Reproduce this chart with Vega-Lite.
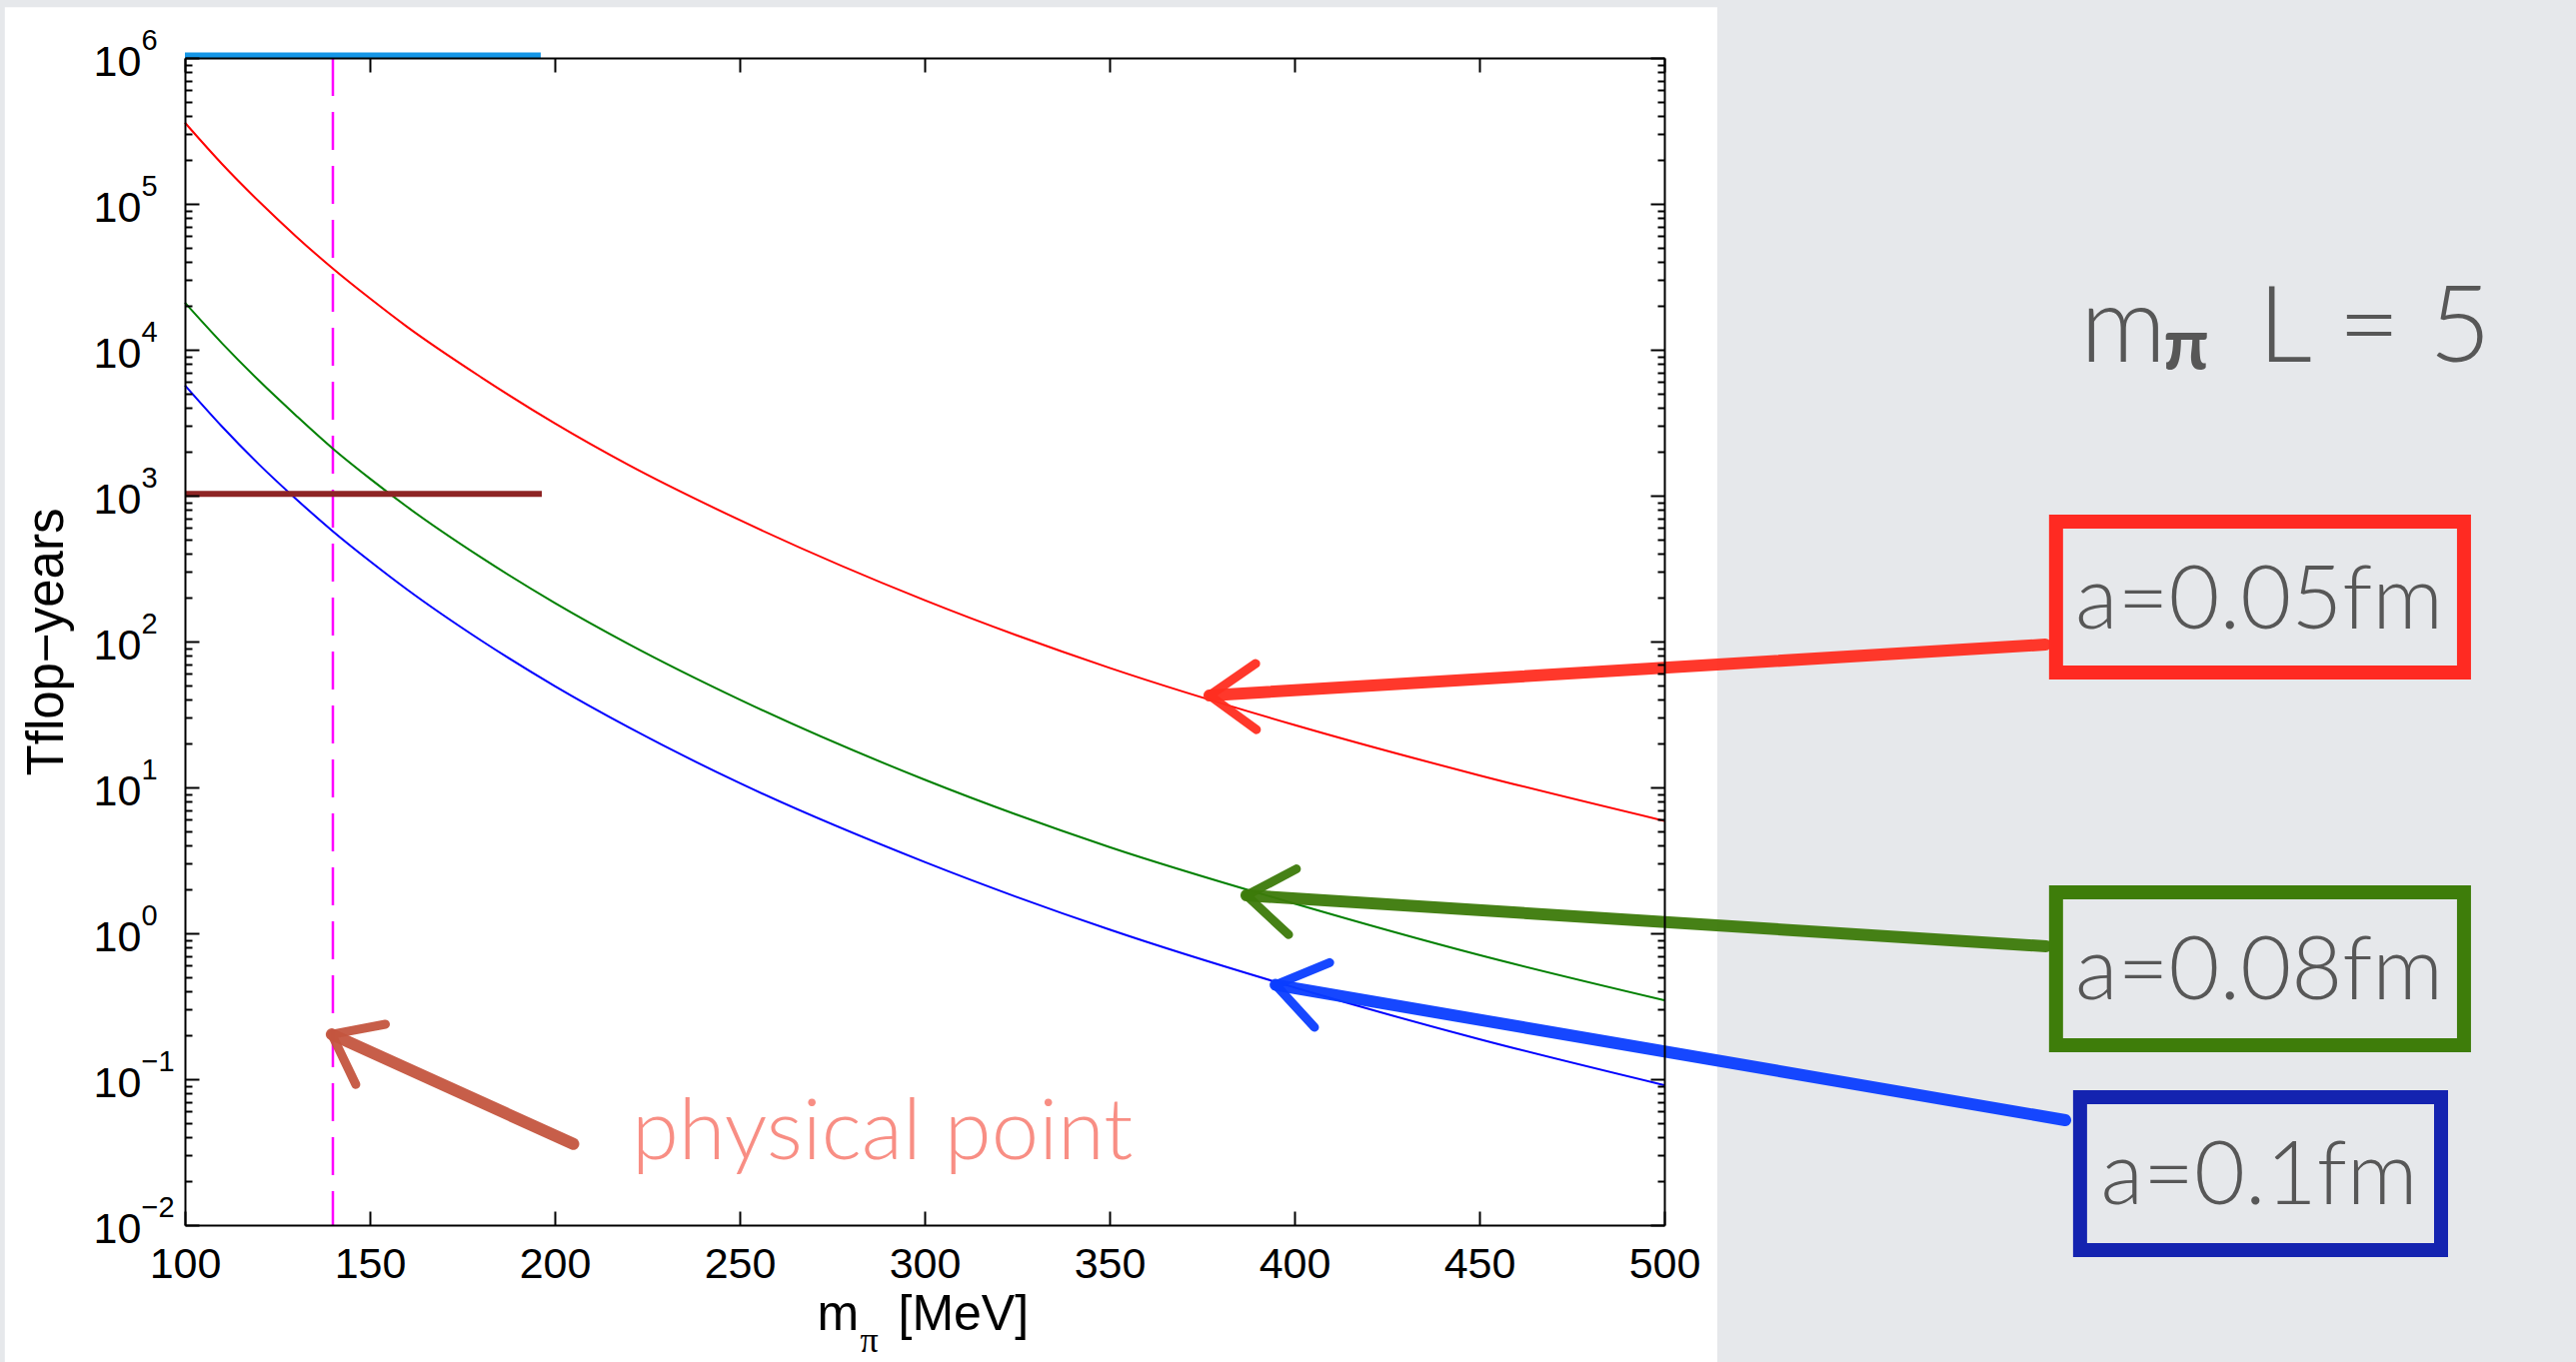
{
  "$schema": "https://vega.github.io/schema/vega-lite/v6.json",
  "width": 1480,
  "height": 1168,
  "autosize": {"type": "none"},
  "padding": {"left": 185, "top": 58, "right": 912, "bottom": 137},
  "background": "#e6e8eb",
  "datasets": {
    "curves": [
      {"s": "a=0.05fm", "m": 100, "v": 360000}, {"s": "a=0.05fm", "m": 110, "v": 188000}, {"s": "a=0.05fm", "m": 120, "v": 104000}, {"s": "a=0.05fm", "m": 130, "v": 60000}, {"s": "a=0.05fm", "m": 140, "v": 36000}, {"s": "a=0.05fm", "m": 150, "v": 22500}, {"s": "a=0.05fm", "m": 160, "v": 14400}, {"s": "a=0.05fm", "m": 180, "v": 6500}, {"s": "a=0.05fm", "m": 200, "v": 3130}, {"s": "a=0.05fm", "m": 220, "v": 1620}, {"s": "a=0.05fm", "m": 250, "v": 680}, {"s": "a=0.05fm", "m": 300, "v": 192}, {"s": "a=0.05fm", "m": 350, "v": 66}, {"s": "a=0.05fm", "m": 400, "v": 26.8}, {"s": "a=0.05fm", "m": 450, "v": 12.1}, {"s": "a=0.05fm", "m": 500, "v": 5.9},
      {"s": "a=0.08fm", "m": 100, "v": 21000}, {"s": "a=0.08fm", "m": 110, "v": 11100}, {"s": "a=0.08fm", "m": 120, "v": 6150}, {"s": "a=0.08fm", "m": 130, "v": 3550}, {"s": "a=0.08fm", "m": 140, "v": 2100}, {"s": "a=0.08fm", "m": 150, "v": 1310}, {"s": "a=0.08fm", "m": 160, "v": 840}, {"s": "a=0.08fm", "m": 180, "v": 378}, {"s": "a=0.08fm", "m": 200, "v": 184}, {"s": "a=0.08fm", "m": 220, "v": 96}, {"s": "a=0.08fm", "m": 250, "v": 40}, {"s": "a=0.08fm", "m": 300, "v": 11.3}, {"s": "a=0.08fm", "m": 350, "v": 3.9}, {"s": "a=0.08fm", "m": 400, "v": 1.6}, {"s": "a=0.08fm", "m": 450, "v": 0.71}, {"s": "a=0.08fm", "m": 500, "v": 0.348},
      {"s": "a=0.1fm", "m": 100, "v": 5700}, {"s": "a=0.1fm", "m": 110, "v": 2980}, {"s": "a=0.1fm", "m": 120, "v": 1640}, {"s": "a=0.1fm", "m": 130, "v": 950}, {"s": "a=0.1fm", "m": 140, "v": 570}, {"s": "a=0.1fm", "m": 150, "v": 356}, {"s": "a=0.1fm", "m": 160, "v": 228}, {"s": "a=0.1fm", "m": 180, "v": 102}, {"s": "a=0.1fm", "m": 200, "v": 49.5}, {"s": "a=0.1fm", "m": 220, "v": 25.8}, {"s": "a=0.1fm", "m": 250, "v": 10.7}, {"s": "a=0.1fm", "m": 300, "v": 3.08}, {"s": "a=0.1fm", "m": 350, "v": 1.06}, {"s": "a=0.1fm", "m": 400, "v": 0.425}, {"s": "a=0.1fm", "m": 450, "v": 0.188}, {"s": "a=0.1fm", "m": 500, "v": 0.091}
    ],
    "levels": [
      {"lvl": "machine", "m": 100, "m2": 196.2, "v": 1040000},
      {"lvl": "now", "m": 100, "m2": 196.5, "v": 1030}
    ],
    "phys": [{"m": 140}],
    "panel": [{"m": 51.3, "m2": 514.3, "v": 2230000, "v2": 0.0006}],
    "arrows": [
      {"a": "red", "part": "shaft", "ord": 0, "m": 603.0, "v": 95.3}, {"a": "red", "part": "shaft", "ord": 1, "m": 377.0, "v": 42.7},
      {"a": "red", "part": "head", "ord": 0, "m": 389.5, "v": 70.6}, {"a": "red", "part": "head", "ord": 1, "m": 377.0, "v": 42.7}, {"a": "red", "part": "head", "ord": 2, "m": 389.7, "v": 24.9},
      {"a": "green", "part": "shaft", "ord": 0, "m": 603.2, "v": 0.814}, {"a": "green", "part": "shaft", "ord": 1, "m": 387.0, "v": 1.82},
      {"a": "green", "part": "head", "ord": 0, "m": 400.5, "v": 2.76}, {"a": "green", "part": "head", "ord": 1, "m": 387.0, "v": 1.82}, {"a": "green", "part": "head", "ord": 2, "m": 398.4, "v": 0.98},
      {"a": "blue", "part": "shaft", "ord": 0, "m": 608.4, "v": 0.0524}, {"a": "blue", "part": "shaft", "ord": 1, "m": 394.9, "v": 0.443},
      {"a": "blue", "part": "head", "ord": 0, "m": 409.5, "v": 0.63}, {"a": "blue", "part": "head", "ord": 1, "m": 394.9, "v": 0.443}, {"a": "blue", "part": "head", "ord": 2, "m": 405.4, "v": 0.227},
      {"a": "phys", "part": "shaft", "ord": 0, "m": 205.0, "v": 0.036}, {"a": "phys", "part": "shaft", "ord": 1, "m": 139.7, "v": 0.203},
      {"a": "phys", "part": "head", "ord": 0, "m": 154.2, "v": 0.238}, {"a": "phys", "part": "head", "ord": 1, "m": 139.7, "v": 0.203}, {"a": "phys", "part": "head", "ord": 2, "m": 146.2, "v": 0.092}
    ],
    "boxes": [
      {"b": "a=0.05fm", "m": 605.9, "m2": 716.2, "v": 663.5, "v2": 61.4},
      {"b": "a=0.08fm", "m": 605.9, "m2": 716.2, "v": 1.91, "v2": 0.171},
      {"b": "a=0.1fm", "m": 612.4, "m2": 710.0, "v": 0.0753, "v2": 0.00674}
    ],
    "notes": [
      {"kind": "box", "t": "a=0.05fm", "m": 660.8, "v": 122.7},
      {"kind": "box", "t": "a=0.08fm", "m": 660.8, "v": 0.353},
      {"kind": "box", "t": "a=0.1fm", "m": 660.8, "v": 0.01393},
      {"kind": "big", "t": "m", "m": 612.4, "v": 8280},
      {"kind": "big", "t": "L = 5", "m": 660.5, "v": 8280},
      {"kind": "pi", "t": "π", "m": 634.9, "v": 7300},
      {"kind": "phys", "t": "physical point", "m": 220.8, "v": 0.0283}
    ]
  },
  "resolve": {
    "scale": {"color": "independent", "stroke": "independent"},
    "axis": {"x": "independent", "y": "independent"}
  },
  "layer": [
    {
      "data": {"name": "panel"},
      "mark": {"type": "rect", "fill": "#ffffff"},
      "encoding": {
        "x": {"field": "m", "type": "quantitative", "scale": {"domain": [100, 500], "nice": false, "zero": false},
          "axis": {"orient": "bottom", "zindex": 2, "labels": false, "ticks": false, "domain": false, "title": "[MeV]", "titleFontSize": 50, "titleX": 713, "titleY": 104, "titleAlign": "left", "titleBaseline": "alphabetic"}},
        "x2": {"field": "m2"},
        "y": {"field": "v", "type": "quantitative", "scale": {"type": "log", "domain": [0.01, 1000000], "nice": false},
          "axis": {"orient": "right", "zindex": 2, "values": [0.02,0.03,0.04,0.05,0.06,0.07,0.08,0.09,0.2,0.3,0.4,0.5,0.6,0.7,0.8,0.9,2,3,4,5,6,7,8,9,20,30,40,50,60,70,80,90,200,300,400,500,600,700,800,900,2000,3000,4000,5000,6000,7000,8000,9000,20000,30000,40000,50000,60000,70000,80000,90000,200000,300000,400000,500000,600000,700000,800000,900000],
            "labels": false, "domain": false, "tickSize": -7, "title": null}},
        "y2": {"field": "v2"}
      }
    },
    {
      "data": {"name": "phys"},
      "mark": {"type": "rule", "color": "#ff00ff", "strokeWidth": 2.5, "strokeDash": [38, 16]},
      "encoding": {
        "x": {"field": "m", "type": "quantitative", "scale": {"domain": [100, 500], "nice": false, "zero": false}, "axis": null}
      }
    },
    {
      "data": {"name": "curves"},
      "transform": [{"filter": "datum.s == 'a=0.05fm'"}],
      "mark": {"type": "line", "color": "#ff0000", "strokeWidth": 2, "interpolate": "monotone"},
      "encoding": {
        "x": {"field": "m", "type": "quantitative", "scale": {"domain": [100, 500], "nice": false, "zero": false},
          "axis": {"orient": "bottom", "zindex": 2, "values": [100,150,200,250,300,350,400,450,500], "tickSize": -14, "labelPadding": 32, "labelFontSize": 43,
            "title": "m", "titleFontSize": 50, "titleX": 632, "titleY": 104, "titleAlign": "left", "titleBaseline": "alphabetic"}},
        "y": {"field": "v", "type": "quantitative", "scale": {"type": "log", "domain": [0.01, 1000000], "nice": false},
          "axis": {"orient": "left", "zindex": 2, "values": [0.01,0.1,1,10,100,1000,10000,100000,1000000], "tickSize": -14, "labelExpr": "'10'", "labelAlign": "left", "labelBaseline": "middle", "labelPadding": 106, "labelFontSize": 43, "labelOffset": 4,
            "title": "Tflop−years", "titleFontSize": 51, "titleX": -123, "titleY": 584, "titleAngle": 270, "titleAlign": "center", "titleBaseline": "alphabetic"}}
      }
    },
    {
      "data": {"name": "curves"},
      "transform": [{"filter": "datum.s == 'a=0.08fm'"}],
      "mark": {"type": "line", "color": "#008000", "strokeWidth": 2, "interpolate": "monotone"},
      "encoding": {
        "x": {"field": "m", "type": "quantitative", "scale": {"domain": [100, 500], "nice": false, "zero": false},
          "axis": {"orient": "top", "zindex": 2, "values": [100,150,200,250,300,350,400,450,500], "tickSize": -14, "labels": false, "title": null}},
        "y": {"field": "v", "type": "quantitative", "scale": {"type": "log", "domain": [0.01, 1000000], "nice": false},
          "axis": {"orient": "right", "zindex": 2, "values": [0.01,0.1,1,10,100,1000,10000,100000,1000000], "tickSize": -14, "labels": false, "title": null}}
      }
    },
    {
      "data": {"name": "curves"},
      "transform": [{"filter": "datum.s == 'a=0.1fm'"}],
      "mark": {"type": "line", "color": "#0000ff", "strokeWidth": 2, "interpolate": "monotone"},
      "encoding": {
        "x": {"field": "m", "type": "quantitative", "scale": {"domain": [100, 500], "nice": false, "zero": false},
          "axis": {"orient": "bottom", "zindex": 2, "labels": false, "ticks": false, "domain": false, "title": "π", "titleFont": "Liberation Serif", "titleFontSize": 36, "titleX": 675, "titleY": 126, "titleAlign": "left", "titleBaseline": "alphabetic"}},
        "y": {"field": "v", "type": "quantitative", "scale": {"type": "log", "domain": [0.01, 1000000], "nice": false},
          "axis": {"orient": "left", "zindex": 2, "values": [0.01,0.1,1,10,100,1000,10000,100000,1000000], "ticks": false, "domain": false,
            "labelExpr": "datum.value < 0.05 ? '−2' : datum.value < 0.5 ? '−1' : datum.value < 5 ? '0' : datum.value < 50 ? '1' : datum.value < 500 ? '2' : datum.value < 5000 ? '3' : datum.value < 50000 ? '4' : datum.value < 500000 ? '5' : '6'",
            "labelAlign": "left", "labelBaseline": "middle", "labelPadding": 44, "labelFontSize": 29, "labelOffset": -18, "title": null}}
      }
    },
    {
      "data": {"name": "levels"},
      "mark": {"type": "rule", "strokeWidth": 6},
      "encoding": {
        "x": {"field": "m", "type": "quantitative", "scale": {"domain": [100, 500], "nice": false, "zero": false}, "axis": null},
        "x2": {"field": "m2"},
        "y": {"field": "v", "type": "quantitative", "scale": {"type": "log", "domain": [0.01, 1000000], "nice": false},
          "axis": {"orient": "left", "zindex": 2, "values": [0.02,0.03,0.04,0.05,0.06,0.07,0.08,0.09,0.2,0.3,0.4,0.5,0.6,0.7,0.8,0.9,2,3,4,5,6,7,8,9,20,30,40,50,60,70,80,90,200,300,400,500,600,700,800,900,2000,3000,4000,5000,6000,7000,8000,9000,20000,30000,40000,50000,60000,70000,80000,90000,200000,300000,400000,500000,600000,700000,800000,900000],
            "labels": false, "domain": false, "tickSize": -7, "title": null}},
        "color": {"field": "lvl", "type": "nominal", "scale": {"domain": ["machine", "now"], "range": ["#1596e6", "#8e2424"]}, "legend": null}
      }
    },
    {
      "data": {"name": "arrows"},
      "transform": [{"filter": "datum.part == 'shaft'"}],
      "mark": {"type": "line", "strokeWidth": 12, "strokeCap": "round", "opacity": 0.95},
      "encoding": {
        "x": {"field": "m", "type": "quantitative", "scale": {"domain": [100, 500], "nice": false, "zero": false}, "axis": null},
        "y": {"field": "v", "type": "quantitative", "scale": {"type": "log", "domain": [0.01, 1000000], "nice": false}, "axis": null},
        "order": {"field": "ord", "type": "quantitative"},
        "detail": {"field": "a"},
        "color": {"field": "a", "type": "nominal", "scale": {"domain": ["red", "green", "blue", "phys"], "range": ["#ff2d20", "#3c7a0a", "#0a3dff", "#c4553f"]}, "legend": null}
      }
    },
    {
      "data": {"name": "arrows"},
      "transform": [{"filter": "datum.part == 'head'"}],
      "mark": {"type": "line", "strokeWidth": 9, "strokeCap": "round", "strokeJoin": "round", "opacity": 0.95},
      "encoding": {
        "x": {"field": "m", "type": "quantitative", "scale": {"domain": [100, 500], "nice": false, "zero": false}, "axis": null},
        "y": {"field": "v", "type": "quantitative", "scale": {"type": "log", "domain": [0.01, 1000000], "nice": false}, "axis": null},
        "order": {"field": "ord", "type": "quantitative"},
        "detail": {"field": "a"},
        "color": {"field": "a", "type": "nominal", "scale": {"domain": ["red", "green", "blue", "phys"], "range": ["#ff2d20", "#3c7a0a", "#0a3dff", "#c4553f"]}, "legend": null}
      }
    },
    {
      "data": {"name": "boxes"},
      "mark": {"type": "rect", "fillOpacity": 0, "strokeWidth": 14},
      "encoding": {
        "x": {"field": "m", "type": "quantitative", "scale": {"domain": [100, 500], "nice": false, "zero": false}, "axis": null},
        "x2": {"field": "m2"},
        "y": {"field": "v", "type": "quantitative", "scale": {"type": "log", "domain": [0.01, 1000000], "nice": false}, "axis": null},
        "y2": {"field": "v2"},
        "stroke": {"field": "b", "type": "nominal", "scale": {"domain": ["a=0.05fm", "a=0.08fm", "a=0.1fm"], "range": ["#ff2a22", "#3e7d0a", "#1423b0"]}, "legend": null}
      }
    },
    {
      "data": {"name": "notes"},
      "transform": [{"filter": "datum.kind == 'box'"}],
      "mark": {"type": "text", "font": "Lato", "fontWeight": 300, "fontSize": 88, "align": "center", "baseline": "alphabetic", "color": "#575757"},
      "encoding": {
        "x": {"field": "m", "type": "quantitative", "scale": {"domain": [100, 500], "nice": false, "zero": false}, "axis": null},
        "y": {"field": "v", "type": "quantitative", "scale": {"type": "log", "domain": [0.01, 1000000], "nice": false}, "axis": null},
        "text": {"field": "t"}
      }
    },
    {
      "data": {"name": "notes"},
      "transform": [{"filter": "datum.kind == 'big'"}],
      "mark": {"type": "text", "font": "Lato", "fontWeight": 300, "fontSize": 107, "align": "left", "baseline": "alphabetic", "color": "#575757"},
      "encoding": {
        "x": {"field": "m", "type": "quantitative", "scale": {"domain": [100, 500], "nice": false, "zero": false}, "axis": null},
        "y": {"field": "v", "type": "quantitative", "scale": {"type": "log", "domain": [0.01, 1000000], "nice": false}, "axis": null},
        "text": {"field": "t"}
      }
    },
    {
      "data": {"name": "notes"},
      "transform": [{"filter": "datum.kind == 'pi'"}],
      "mark": {"type": "text", "font": "Lato", "fontWeight": "bold", "fontSize": 72, "align": "left", "baseline": "alphabetic", "color": "#575757"},
      "encoding": {
        "x": {"field": "m", "type": "quantitative", "scale": {"domain": [100, 500], "nice": false, "zero": false}, "axis": null},
        "y": {"field": "v", "type": "quantitative", "scale": {"type": "log", "domain": [0.01, 1000000], "nice": false}, "axis": null},
        "text": {"field": "t"}
      }
    },
    {
      "data": {"name": "notes"},
      "transform": [{"filter": "datum.kind == 'phys'"}],
      "mark": {"type": "text", "font": "Lato", "fontWeight": 300, "fontSize": 85, "align": "left", "baseline": "alphabetic", "color": "#f88e84"},
      "encoding": {
        "x": {"field": "m", "type": "quantitative", "scale": {"domain": [100, 500], "nice": false, "zero": false}, "axis": null},
        "y": {"field": "v", "type": "quantitative", "scale": {"type": "log", "domain": [0.01, 1000000], "nice": false}, "axis": null},
        "text": {"field": "t"}
      }
    }
  ],
  "config": {
    "view": {"stroke": null},
    "axis": {
      "domainColor": "#000000", "domainWidth": 2, "tickColor": "#000000", "tickWidth": 2,
      "labelColor": "#000000", "labelFont": "Liberation Sans", "titleFont": "Liberation Sans", "titleColor": "#000000", "titleFontWeight": "normal",
      "grid": false, "labelFlush": false, "labelOverlap": false
    }
  }
}
